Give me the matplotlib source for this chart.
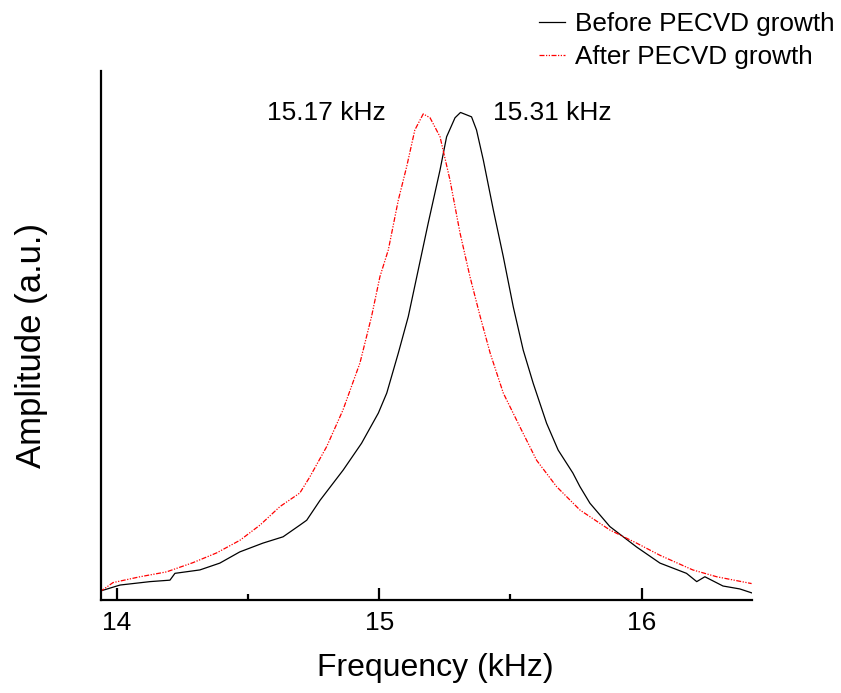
import matplotlib.pyplot as plt
from matplotlib.ticker import MultipleLocator, NullLocator

# ---------- Data ----------
# frequency in kHz, amplitude normalised to peak = 1 (a.u.)
before_freq = [13.940, 14.013, 14.127, 14.203, 14.222, 14.317, 14.393, 14.469,
               14.557, 14.634, 14.698, 14.724, 14.775, 14.863, 14.933, 14.997,
               15.029, 15.073, 15.111, 15.149, 15.187, 15.232, 15.257, 15.289,
               15.310, 15.352, 15.371, 15.397, 15.435, 15.473, 15.511, 15.549,
               15.587, 15.638, 15.682, 15.738, 15.765, 15.803, 15.879, 15.981,
               16.070, 16.171, 16.210, 16.241, 16.310, 16.374, 16.419]
before_amp = [0.019, 0.031, 0.038, 0.041, 0.055, 0.062, 0.076, 0.099,
              0.117, 0.130, 0.154, 0.164, 0.205, 0.267, 0.322, 0.384,
              0.425, 0.507, 0.582, 0.678, 0.774, 0.883, 0.951, 0.990,
              1.001, 0.992, 0.965, 0.903, 0.801, 0.705, 0.602, 0.513,
              0.445, 0.363, 0.308, 0.261, 0.233, 0.199, 0.151, 0.109,
              0.076, 0.055, 0.038, 0.048, 0.029, 0.023, 0.015]

after_freq = [13.936, 13.986, 14.089, 14.190, 14.291, 14.381, 14.470, 14.546,
              14.622, 14.698, 14.736, 14.800, 14.862, 14.927, 14.971, 15.003,
              15.035, 15.073, 15.105, 15.136, 15.168, 15.194, 15.232, 15.270,
              15.308, 15.346, 15.385, 15.423, 15.473, 15.536, 15.600, 15.676,
              15.765, 15.879, 15.981, 16.070, 16.195, 16.286, 16.419]
after_amp = [0.017, 0.036, 0.048, 0.058, 0.077, 0.097, 0.123, 0.154,
             0.192, 0.220, 0.253, 0.315, 0.390, 0.487, 0.582, 0.664,
             0.719, 0.821, 0.890, 0.965, 0.998, 0.990, 0.951, 0.862,
             0.754, 0.664, 0.582, 0.507, 0.425, 0.356, 0.287, 0.233,
             0.185, 0.144, 0.117, 0.092, 0.062, 0.048, 0.034]

labels = ["Before PECVD growth", "After PECVD growth"]
peak_labels = ["15.17 kHz", "15.31 kHz"]

plt.rcParams["font.family"] = ["Liberation Sans", "DejaVu Sans"]

fig = plt.figure(figsize=(8.41, 6.93), dpi=100)
ax = fig.add_axes([0.120, 0.134, 0.774, 0.7635])

ax.plot(before_freq, before_amp, color="black", lw=0.9, label=labels[0])
ax.plot(after_freq, after_amp, color="red", lw=0.9,
        linestyle=(0, (4, 1.2, 1, 1.2, 1, 1.2)), label=labels[1])

ax.set_xlim(13.94, 16.42)
ax.set_ylim(0, 1.086)

ax.spines["top"].set_visible(False)
ax.spines["right"].set_visible(False)
ax.spines["left"].set_linewidth(1.6)
ax.spines["bottom"].set_linewidth(1.6)

ax.xaxis.set_major_locator(MultipleLocator(1))
ax.xaxis.set_minor_locator(MultipleLocator(0.5))
ax.yaxis.set_major_locator(NullLocator())
ax.tick_params(axis="x", which="major", direction="in", length=9, width=1.6,
               labelsize=19, pad=8)
ax.tick_params(axis="x", which="minor", direction="in", length=4, width=1.6)

ax.set_xlabel("Frequency (kHz)", fontsize=23, labelpad=13)
ax.xaxis.label.set_x(0.513)
ax.set_ylabel("Amplitude (a.u.)", fontsize=25, labelpad=38)
ax.yaxis.label.set_y(0.482)

ax.text(15.026, 1.0, peak_labels[0], fontsize=19, ha="right", va="center")
ax.text(15.433, 1.0, peak_labels[1], fontsize=19, ha="left", va="center")

fig.legend(loc="upper right", bbox_to_anchor=(0.999, 0.99), frameon=False,
           fontsize=18.8, handlelength=1.0, handletextpad=0.4,
           labelspacing=0.33, borderaxespad=0.0, borderpad=0.2)

fig.savefig("out.png", dpi=100)
